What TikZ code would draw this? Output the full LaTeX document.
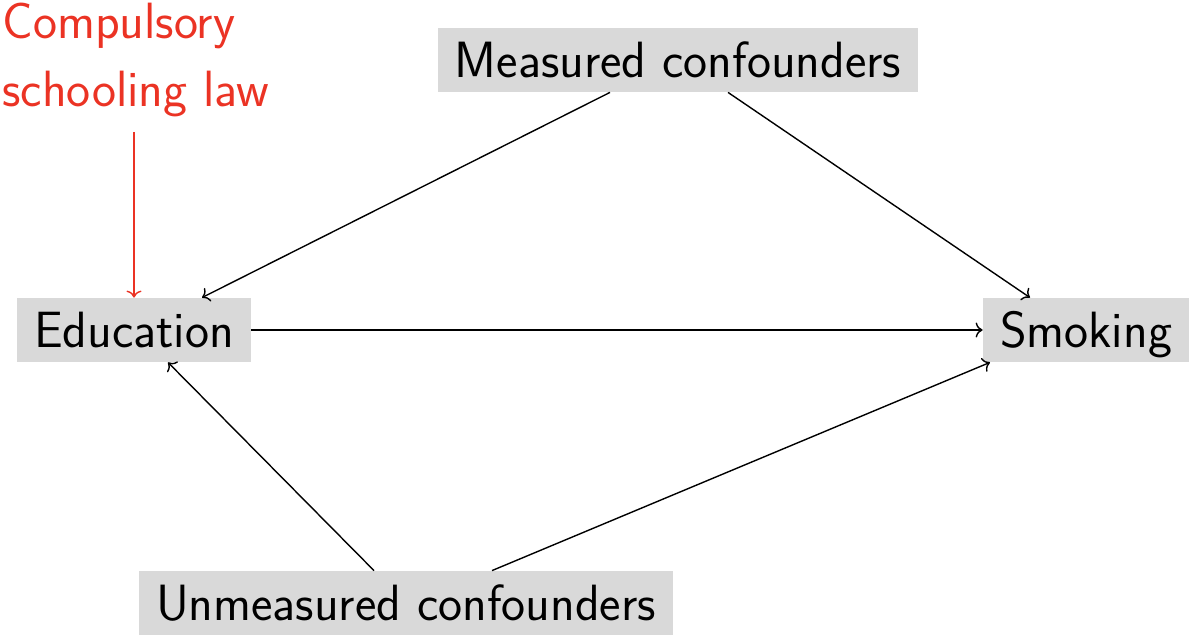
\documentclass[tikz,border=0pt]{standalone}
\usepackage{tikz}
\usetikzlibrary{arrows.meta}
\definecolor{lawred}{RGB}{235,51,36}
\definecolor{boxgray}{RGB}{217,217,217}
\begin{document}
\begin{tikzpicture}[x=0.5pt,y=-0.5pt,
  font=\sffamily\fontsize{25.5}{30}\selectfont,
  var/.style={fill=boxgray,inner xsep=8.5pt,inner ysep=0pt,minimum height=32pt,text height=17.8pt,text depth=0pt},
  arr/.style={-{To[length=3.5pt,width=7.5pt]},line width=0.7pt},
  redarr/.style={arr,draw=lawred}]
\useasboundingbox (0,0) rectangle (1190,636);
\node[var] (edu) at (134,330) {Education};
\node[var] (smk) at (1086,330) {Smoking};
\node[var] (mc) at (678,60) {Measured confounders};
\node[var] (uc) at (406,603) {Unmeasured confounders};
\node[text=lawred,align=left,anchor=north west,inner sep=0pt,font=\sffamily\fontsize{25.5}{34}\selectfont] (law) at (2,3) {Compulsory\\schooling law};
\coordinate (lawend) at (134,132);
\draw[redarr] (lawend) -- (edu.north);
\draw[arr] ([xshift=-34pt]mc.south) -- ([xshift=34pt]edu.north);
\draw[arr] ([xshift=25pt]mc.south) -- ([xshift=-28pt]smk.north);
\draw[arr] (edu.east) -- (smk.west);
\draw[arr] ([xshift=-16pt]uc.north) -- ([xshift=17pt]edu.south);
\draw[arr] ([xshift=43pt]uc.north) -- ([xshift=-48pt]smk.south);
\end{tikzpicture}
\end{document}
